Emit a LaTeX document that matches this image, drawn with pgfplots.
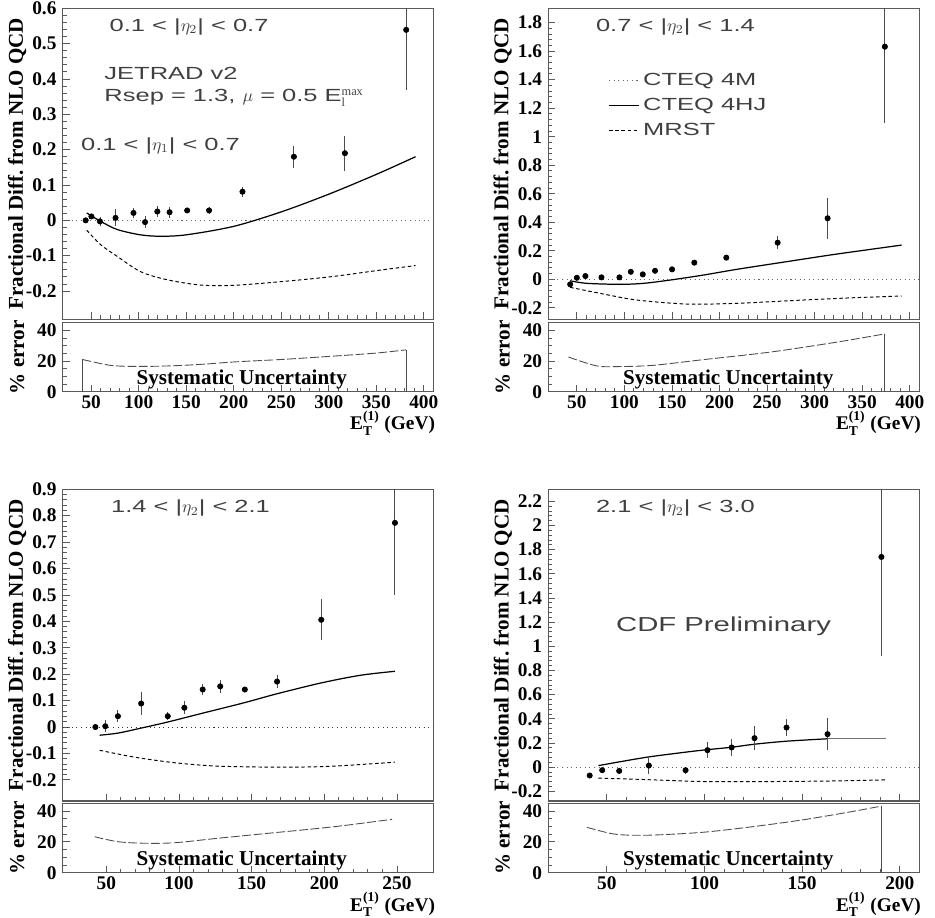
\documentclass[border=0pt]{standalone}
\usepackage{fontspec}
\usepackage{amsmath}
\setmainfont{Liberation Serif}
\newfontfamily\rootsans{Liberation Sans}[FakeStretch=1.45]
\usepackage{pgfplots}
\usepackage{pgfplotstable}
\pgfplotsset{compat=1.18}

% measured points: x, fractional difference, error
\pgfplotstableread{
x y e
44.2 0.000 0.006
50.2 0.011 0.006
59.2 -0.003 0.012
75.6 0.007 0.024
94.5 0.021 0.015
106.7 -0.005 0.017
119.6 0.025 0.015
132.5 0.023 0.015
151.0 0.028 0.008
174.0 0.028 0.010
209.2 0.081 0.014
263.3 0.180 0.031
317.0 0.190 0.050
381.5 0.539 0.170
}\dataA
\pgfplotstableread{
x y e
43.0 -0.035 0.008
50.0 0.011 0.008
59.0 0.023 0.008
75.9 0.014 0.008
94.8 0.014 0.008
106.7 0.053 0.008
119.3 0.035 0.008
132.2 0.060 0.010
150.1 0.070 0.012
173.5 0.117 0.012
207.1 0.152 0.015
261.1 0.257 0.047
313.6 0.428 0.144
373.8 1.631 0.537
}\dataB
\pgfplotstableread{
x y e
42.5 0.000 0.008
49.3 0.003 0.022
58.0 0.041 0.022
74.0 0.089 0.042
92.3 0.041 0.015
103.7 0.073 0.025
116.3 0.142 0.020
128.4 0.154 0.025
145.3 0.142 0.010
167.5 0.172 0.025
197.9 0.406 0.077
248.6 0.773 0.274
}\dataC
\pgfplotstableread{
x y e
41.2 -0.069 0.010
47.6 -0.025 0.012
56.3 -0.031 0.015
71.5 0.013 0.069
90.3 -0.025 0.030
101.5 0.141 0.066
113.9 0.163 0.069
125.6 0.240 0.097
142.0 0.328 0.069
163.0 0.273 0.134
190.6 1.740 0.824
}\dataD

\pgfplotsset{
  cdfbase/.style={
    scale only axis, anchor=south west, xmin=20,
    axis line style={black!65, line width=0.6pt},
    tick style={black!65, line width=0.5pt},
    tick align=inside, tick pos=left,
    major tick length=0.14cm, minor tick length=0.08cm,
    minor x tick num=4,
    tick label style={font=\fontsize{11}{13}\selectfont\bfseries},
    label style={font=\fontsize{12}{14}\selectfont\bfseries},
    /pgf/number format/assume math mode=true,
    ylabel style={at={(axis description cs:-0.1228,0.5)}, anchor=center},
  },
  mainax/.style={cdfbase, xticklabel=\empty, ymin=-0.28, minor y tick num=4,
    ylabel={Fractional Diff.\ from NLO QCD}},
  lowax/.style={cdfbase, ymin=0, ymax=45, ytick={0,20,40}, minor y tick num=3,
    ylabel={\% error},
    xticklabel style={yshift=1.5pt},
    xlabel={E$_{\textbf{T}}^{\textbf{(1)}}$ (GeV)},
    xlabel style={at={(axis description cs:0.89,-0.455)}, anchor=center,
      font=\fontsize{11}{13}\selectfont\bfseries}},
  m4/.style={black!60, dotted, line width=0.6pt},
  hj/.style={black, line width=0.7pt, smooth},
  mrst/.style={black, dash pattern=on 2pt off 1.5pt, line width=0.55pt, smooth},
  sys/.style={black!70, dash pattern=on 5pt off 1.5pt, line width=0.5pt, smooth},
  vert/.style={black!70, line width=0.5pt},
  pts/.style={only marks, mark=*, mark size=1.5pt, black,
    error bars/y dir=both, error bars/y explicit, error bars/error mark=none,
    error bars/error bar style={black!70, line width=0.5pt}},
}
\newcommand{\lab}[1]{\rootsans\color{black!75}#1}

\begin{document}
\begin{tikzpicture}
\path[use as bounding box] (0,0) rectangle (18.7,18.36);

% ---------- top left ----------
\begin{axis}[mainax, at={(1.254cm,11.974cm)}, width=7.412cm, height=6.22cm,
  xmax=410, xtick={50,100,...,400}, ymax=0.6, ytick={-0.2,-0.1,...,0.6}]
\addplot[m4] coordinates {(20,0) (410,0)};
\addplot[hj] coordinates {(45.3,0.021) (60,-0.003) (77.4,-0.026) (101.8,-0.041) (122.7,-0.045) (150,-0.041) (200,-0.017) (250,0.024) (300,0.074) (350,0.13) (391.3,0.18)};
\addplot[mrst] coordinates {(45.3,-0.028) (60,-0.069) (77.4,-0.102) (101.8,-0.145) (129.7,-0.168) (164.6,-0.183) (199.4,-0.184) (251.7,-0.173) (304,-0.159) (356.4,-0.14) (391.3,-0.128)};
\addplot[pts] table[x=x, y=y, y error=e] {\dataA};
\node[anchor=west, font=\fontsize{10}{12}\selectfont] at (rel axis cs:0.11,0.941) {\lab{0.1 < |$\eta_2$| < 0.7}};
\node[anchor=west, font=\fontsize{10}{12}\selectfont] at (rel axis cs:0.096,0.789) {\lab{JETRAD v2}};
\node[anchor=west, font=\fontsize{10}{12}\selectfont] at (rel axis cs:0.096,0.711) {\lab{Rsep = 1.3, $\mu$ = 0.5 E$_{\mathrm{l}}^{\mathrm{max}}$}};
\node[anchor=west, font=\fontsize{10}{12}\selectfont] at (rel axis cs:0.033,0.558) {\lab{0.1 < |$\eta_1$| < 0.7}};
\end{axis}
\begin{axis}[lowax, at={(1.254cm,10.526cm)}, width=7.412cm, height=1.38cm,
  xmax=410, xtick={50,100,...,400}]
\addplot[sys] coordinates {(40.8,21) (55,19) (70,17.2) (85,16.6) (110,16.5) (140,17) (170,18) (200,19.4) (250,21) (300,23) (350,25.2) (381.5,27.3)};
\addplot[vert] coordinates {(40.8,0) (40.8,21)};
\addplot[vert] coordinates {(381.5,0) (381.5,27.3)};
\node[font=\fontsize{12}{14}\selectfont\bfseries] at (rel axis cs:0.483,0.184) {Systematic Uncertainty};
\end{axis}

% ---------- top right ----------
\begin{axis}[mainax, at={(10.966cm,11.974cm)}, width=7.42cm, height=6.22cm,
  xmax=410, xtick={50,100,...,400}, ymax=1.9, ytick={-0.2,0,...,1.8},
  legend style={at={(rel axis cs:0.147,0.815)}, anchor=north west, draw=none, fill=none,
    font=\rootsans\fontsize{10}{12}\selectfont\color{black!75}, row sep=0.06cm},
  legend cell align=left]
\addplot[m4] coordinates {(20,0) (410,0)};
\addlegendentry{CTEQ 4M}
\addplot[hj] coordinates {(43,-0.01) (60.5,-0.028) (95.5,-0.035) (120,-0.028) (148,-0.005) (183,0.03) (218,0.07) (270.6,0.124) (323,0.177) (391.4,0.24)};
\addlegendentry{CTEQ 4HJ}
\addplot[mrst] coordinates {(43,-0.056) (78,-0.103) (113,-0.145) (165.5,-0.173) (218,-0.168) (288,-0.145) (340.5,-0.129) (391.4,-0.117)};
\addlegendentry{MRST}
\addplot[pts, forget plot] table[x=x, y=y, y error=e] {\dataB};
\node[anchor=west, font=\fontsize{10}{12}\selectfont] at (rel axis cs:0.112,0.941) {\lab{0.7 < |$\eta_2$| < 1.4}};
\end{axis}
\begin{axis}[lowax, at={(10.966cm,10.526cm)}, width=7.42cm, height=1.38cm,
  xmax=410, xtick={50,100,...,400}, ylabel style={at={(axis description cs:-0.1226,0.5)}}]
\addplot[sys] coordinates {(41.2,22.6) (71,16.8) (95.5,16.4) (130.5,17.2) (183,20.9) (253,25.8) (323,32.3) (373.8,37.7)};
\addplot[vert] coordinates {(373.8,0) (373.8,37.7)};
\node[font=\fontsize{12}{14}\selectfont\bfseries] at (rel axis cs:0.485,0.184) {Systematic Uncertainty};
\end{axis}

% ---------- bottom left ----------
\begin{axis}[mainax, at={(1.254cm,2.34cm)}, width=7.412cm, height=6.234cm,
  xmax=275, xtick={50,100,...,250}, ymax=0.9, ytick={-0.2,-0.1,...,0.9}]
\addplot[m4, black!80] coordinates {(20,0) (275,0)};
\addplot[hj] coordinates {(45.4,-0.031) (58,-0.023) (74,-0.004) (92.3,0.019) (115.2,0.051) (144.9,0.092) (167.5,0.126) (197.9,0.167) (224.9,0.196) (248.6,0.211)};
\addplot[mrst] coordinates {(45.4,-0.088) (69.4,-0.114) (96.8,-0.135) (126.6,-0.148) (172.3,-0.152) (206.6,-0.148) (248.6,-0.133)};
\addplot[pts] table[x=x, y=y, y error=e] {\dataC};
\node[anchor=west, font=\fontsize{10}{12}\selectfont] at (rel axis cs:0.114,0.939) {\lab{1.4 < |$\eta_2$| < 2.1}};
\end{axis}
\begin{axis}[lowax, at={(1.254cm,0.906cm)}, width=7.412cm, height=1.388cm,
  xmax=275, xtick={50,100,...,250}]
\addplot[sys] coordinates {(42,23.3) (58,20.1) (76.3,19.1) (96.8,19.4) (126.6,22.3) (161,25.5) (206.6,29.8) (246.6,34.6)};
\node[font=\fontsize{12}{14}\selectfont\bfseries] at (rel axis cs:0.483,0.183) {Systematic Uncertainty};
\end{axis}

% ---------- bottom right ----------
\begin{axis}[mainax, at={(10.966cm,2.34cm)}, width=7.42cm, height=6.234cm,
  xmax=210, xtick={50,100,150,200}, ymax=2.3, ytick={-0.2,0,...,2.2},
  ylabel style={at={(axis description cs:-0.1226,0.5)}}]
\addplot[m4] coordinates {(20,0) (210,0)};
\addplot[hj] coordinates {(45.7,0.013) (56.8,0.045) (71.5,0.085) (90.7,0.125) (101.5,0.145) (113.9,0.165) (125.6,0.19) (142,0.215) (163,0.235)};
\addplot[black!55, line width=0.7pt] coordinates {(163,0.235) (192.7,0.235)};
\addplot[mrst] coordinates {(45.7,-0.091) (65,-0.1) (99.1,-0.119) (133,-0.119) (166.9,-0.114) (192.7,-0.105)};
\addplot[pts] table[x=x, y=y, y error=e] {\dataD};
\node[anchor=west, font=\fontsize{10}{12}\selectfont] at (rel axis cs:0.112,0.939) {\lab{2.1 < |$\eta_2$| < 3.0}};
\node[anchor=west, font=\fontsize{11.5}{14}\selectfont] at (rel axis cs:0.166,0.561) {\lab{CDF Preliminary}};
\end{axis}
\begin{axis}[lowax, at={(10.966cm,0.906cm)}, width=7.42cm, height=1.388cm,
  xmax=210, xtick={50,100,150,200}, ylabel style={at={(axis description cs:-0.1226,0.5)}}]
\addplot[sys] coordinates {(39.8,29.4) (51.7,25.5) (60.2,24.4) (73.7,24.4) (99.1,26.2) (124.5,29.8) (150,34.2) (175.4,39.6) (190.6,43.2)};
\addplot[vert] coordinates {(190.6,0) (190.6,43.2)};
\node[font=\fontsize{12}{14}\selectfont\bfseries] at (rel axis cs:0.485,0.183) {Systematic Uncertainty};
\end{axis}
\end{tikzpicture}
\end{document}
